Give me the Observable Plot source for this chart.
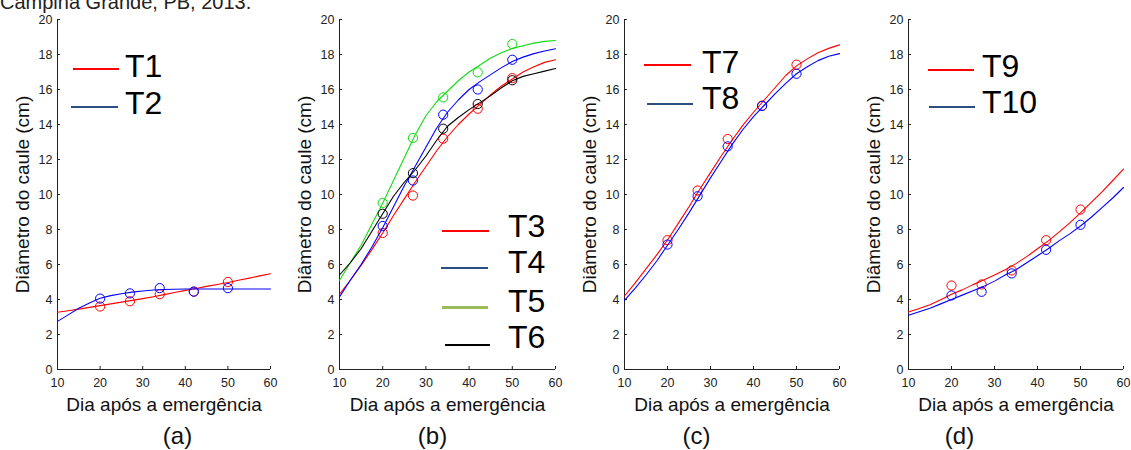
<!DOCTYPE html>
<html>
<head>
<meta charset="utf-8">
<script src="https://cdn.jsdelivr.net/npm/d3@7"></script>
<script src="https://cdn.jsdelivr.net/npm/@observablehq/plot@0.6"></script>
<style>
  body { margin: 0; background: #ffffff; font-family: "Liberation Sans", Arial, sans-serif; }
  #wrap { position: relative; width: 1131px; height: 450px; overflow: hidden; background: #ffffff; }
  .panel { position: absolute; top: 0; }
  .top { position: absolute; left: 0; top: -8px; font-size: 20px; line-height: 20px; color: #222; white-space: nowrap; }
  .legtxt { position: absolute; font-size: 32px; line-height: 32px; color: #000; white-space: nowrap; }
  .legline { position: absolute; height: 2px; }
</style>
</head>
<body>
<div id="wrap">
  <div class="top">Campina Grande, PB, 2013.</div>
</div>
<script>
// ---------- data ----------
const days = [20, 27, 34, 42, 50];              // observation days
const fitDays = [10, 12.5, 15, 17.5, 20, 22.5, 25, 27.5, 30, 32.5, 35, 37.5, 40, 42.5, 45, 47.5, 50, 52.5, 55, 57.5, 60];
const xTicks = [10, 20, 30, 40, 50, 60];
const yTicks = [0, 2, 4, 6, 8, 10, 12, 14, 16, 18, 20];
const xLabel = "Dia após a emergência";
const yLabel = "Diâmetro do caule (cm)";
const panelTags = ["(a)", "(b)", "(c)", "(d)"];

// observed values (circles)
const obsT1  = [3.6, 3.9, 4.3, 4.45, 5.0];
const obsT2  = [4.05, 4.35, 4.65, 4.45, 4.65];
const obsT3  = [7.8, 9.94, 13.19, 14.9, 16.65];
const obsT4  = [8.2, 10.8, 14.56, 16.0, 17.7];
const obsT5  = [9.52, 13.23, 15.55, 16.98, 18.6];
const obsT6  = [8.9, 11.22, 13.76, 15.17, 16.53];
const obsT7  = [7.39, 10.23, 13.17, 15.08, 17.42];
const obsT8  = [7.14, 9.9, 12.75, 15.06, 16.9];
const obsT9  = [4.8, 4.86, 5.66, 7.39, 9.14];
const obsT10 = [4.23, 4.44, 5.49, 6.84, 8.27];

// fitted curves (lines), read at fitDays
const fitT1  = [3.27, 3.36, 3.45, 3.55, 3.65, 3.75, 3.85, 3.95, 4.05, 4.16, 4.28, 4.4, 4.52, 4.63, 4.75, 4.86, 4.97, 5.1, 5.22, 5.35, 5.47];
const fitT2  = [2.75, 3.12, 3.5, 3.8, 4.07, 4.22, 4.33, 4.42, 4.49, 4.54, 4.57, 4.59, 4.6, 4.6, 4.6, 4.6, 4.6, 4.6, 4.6, 4.6, 4.6];
const fitT3  = [4.3, 5.1, 5.95, 6.85, 7.8, 8.8, 9.75, 10.7, 11.6, 12.5, 13.3, 14.0, 14.6, 15.15, 15.7, 16.2, 16.6, 17.0, 17.3, 17.55, 17.7];
const fitT4  = [4.15, 5.1, 6.0, 7.0, 8.1, 9.3, 10.5, 11.6, 12.7, 13.8, 14.7, 15.4, 16.0, 16.45, 16.85, 17.25, 17.6, 17.85, 18.05, 18.2, 18.33];
const fitT5  = [5.1, 6.1, 7.1, 8.3, 9.5, 10.8, 12.1, 13.4, 14.5, 15.3, 15.9, 16.5, 17.0, 17.4, 17.8, 18.1, 18.35, 18.5, 18.65, 18.75, 18.8];
const fitT6  = [5.4, 6.1, 6.9, 7.9, 8.9, 9.9, 10.7, 11.4, 12.2, 13.1, 13.9, 14.4, 14.85, 15.25, 15.65, 16.1, 16.5, 16.75, 16.9, 17.05, 17.2];
const fitT7  = [4.2, 4.95, 5.75, 6.55, 7.4, 8.35, 9.3, 10.3, 11.25, 12.2, 13.1, 13.95, 14.7, 15.4, 16.1, 16.8, 17.35, 17.75, 18.1, 18.35, 18.55];
const fitT8  = [3.95, 4.65, 5.4, 6.2, 7.1, 8.0, 8.95, 9.95, 10.95, 11.9, 12.85, 13.7, 14.45, 15.1, 15.75, 16.35, 16.9, 17.3, 17.65, 17.9, 18.05];
const fitT9  = [3.28, 3.48, 3.7, 3.98, 4.3, 4.55, 4.85, 5.12, 5.4, 5.7, 6.05, 6.45, 6.9, 7.35, 7.85, 8.38, 8.95, 9.55, 10.15, 10.8, 11.45];
const fitT10 = [3.1, 3.3, 3.5, 3.75, 4.0, 4.25, 4.5, 4.75, 5.05, 5.4, 5.7, 6.1, 6.5, 6.9, 7.35, 7.75, 8.2, 8.7, 9.25, 9.8, 10.4];

// ---------- styling / layout ----------
const RED = "#ff0000", BLUE = "#0000ff", GREEN = "#11dd11", BLACK = "#000000";
const LEG_RED = "#ff0000", LEG_NAVY = "#2b4f82", LEG_GREEN = "#9bbb59", LEG_BLACK = "#000000";

const panels = [
  { left: 0,   width: 283, ml: 57, mr: 13, tagDx: 13.5,
    series: [["T1", fitT1, obsT1, RED], ["T2", fitT2, obsT2, BLUE]],
    legend: [
      { name: "T1", color: LEG_RED,  x1: 73, x2: 119, y: 69,  tx: 125, base: 77,  w: 2 },
      { name: "T2", color: LEG_NAVY, x1: 71, x2: 118, y: 107, tx: 125, base: 114, w: 2 } ] },
  { left: 283, width: 283, ml: 56, mr: 11, tagDx: -15,
    series: [["T3", fitT3, obsT3, RED], ["T4", fitT4, obsT4, BLUE], ["T5", fitT5, obsT5, GREEN], ["T6", fitT6, obsT6, BLACK]],
    legend: [
      { name: "T3", color: LEG_RED,   x1: 442, x2: 489, y: 231, tx: 508, base: 237, w: 2 },
      { name: "T4", color: LEG_NAVY,  x1: 441, x2: 488, y: 268, tx: 508, base: 273, w: 2 },
      { name: "T5", color: LEG_GREEN, x1: 442, x2: 488, y: 307, tx: 508, base: 312, w: 3 },
      { name: "T6", color: LEG_BLACK, x1: 445, x2: 490, y: 345, tx: 508, base: 348, w: 2.5 } ] },
  { left: 566, width: 283, ml: 58, mr: 10, tagDx: -35.5,
    series: [["T7", fitT7, obsT7, RED], ["T8", fitT8, obsT8, BLUE]],
    legend: [
      { name: "T7", color: LEG_RED,  x1: 644, x2: 691, y: 65,  tx: 702, base: 73,  w: 2 },
      { name: "T8", color: LEG_NAVY, x1: 647, x2: 693, y: 104, tx: 702, base: 109, w: 2 } ] },
  { left: 849, width: 282, ml: 59, mr: 8, tagDx: -56.5,
    series: [["T9", fitT9, obsT9, RED], ["T10", fitT10, obsT10, BLUE]],
    legend: [
      { name: "T9",  color: LEG_RED,  x1: 928, x2: 974, y: 70,  tx: 982, base: 77,  w: 2 },
      { name: "T10", color: LEG_NAVY, x1: 929, x2: 975, y: 107, tx: 982, base: 113, w: 2 } ] }
];

const wrap = document.getElementById("wrap");

panels.forEach((p, i) => {
  const marks = [
    Plot.axisX(xTicks, { tickSize: -3, tickPadding: 12, fontSize: 12.5, label: null, stroke: "#222", fill: "#222" }),
    Plot.axisY(yTicks, { tickSize: -3, tickPadding: 8, fontSize: 12.5, label: null, stroke: "#222", fill: "#222" }),
    Plot.ruleX([10], { stroke: "#222", strokeWidth: 1 }),
    Plot.ruleY([0], { stroke: "#222", strokeWidth: 1 })
  ];
  p.series.forEach(([name, fit, obs, color]) => {
    const lineData = fitDays.map((d, k) => ({ d, v: fit[k] }));
    const dotData = days.map((d, k) => ({ d, v: obs[k] }));
    marks.push(Plot.line(lineData, { x: "d", y: "v", stroke: color, strokeWidth: 1.1 }));
    marks.push(Plot.dot(dotData, { x: "d", y: "v", stroke: color, r: 4.6, strokeWidth: 1 }));
  });
  marks.push(Plot.text([xLabel], { frameAnchor: "bottom", lineAnchor: "top", dy: 28, fontSize: 19, fill: "#111" }));
  marks.push(Plot.text([yLabel], { frameAnchor: "left", textAnchor: "middle", lineAnchor: "middle", rotate: -90, dx: -35, fontSize: 19, fill: "#111" }));
  marks.push(Plot.text([panelTags[i]], { frameAnchor: "bottom", lineAnchor: "top", dx: p.tagDx, dy: 57, fontSize: 24, fill: "#111" }));

  const svg = Plot.plot({
    width: p.width, height: 450,
    marginLeft: p.ml, marginRight: p.mr, marginTop: 19, marginBottom: 81,
    style: { fontFamily: "'Liberation Sans', Arial, sans-serif", background: "transparent", color: "#222", overflow: "visible" },
    x: { domain: [10, 60] },
    y: { domain: [0, 20] },
    marks
  });
  const holder = document.createElement("div");
  holder.className = "panel";
  holder.style.left = p.left + "px";
  holder.appendChild(svg);
  wrap.appendChild(holder);

  p.legend.forEach(l => {
    const ln = document.createElement("div");
    ln.className = "legline";
    ln.style.left = l.x1 + "px";
    ln.style.width = (l.x2 - l.x1) + "px";
    ln.style.top = (l.y - l.w / 2) + "px";
    ln.style.height = l.w + "px";
    ln.style.background = l.color;
    wrap.appendChild(ln);
    const tx = document.createElement("div");
    tx.className = "legtxt";
    tx.textContent = l.name;
    tx.style.left = l.tx + "px";
    tx.style.top = (l.base - 27) + "px";
    wrap.appendChild(tx);
  });
});
</script>
</body>
</html>
